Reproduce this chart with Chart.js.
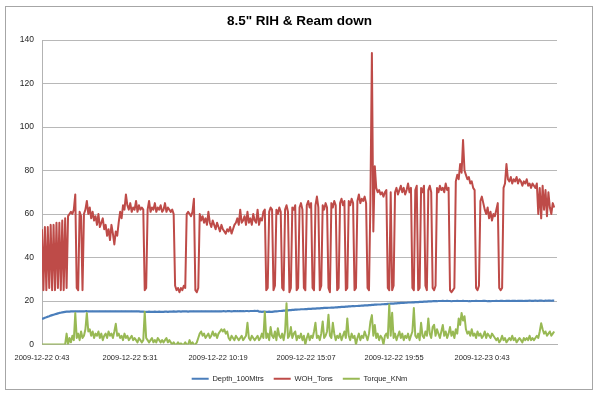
<!DOCTYPE html>
<html>
<head>
<meta charset="utf-8">
<script src="https://cdn.jsdelivr.net/npm/chart.js@4.4.1/dist/chart.umd.min.js"></script>
<style>
html,body{margin:0;padding:0;background:#fff;}
#wrap{position:relative;width:600px;height:399px;}
</style>
</head>
<body>
<div id="wrap"><canvas id="c" width="600" height="399"></canvas></div>
<script>
// ---- data ----
const tickLabels = ["2009-12-22 0:43", "2009-12-22 5:31", "2009-12-22 10:19", "2009-12-22 15:07", "2009-12-22 19:55", "2009-12-23 0:43"];
const tickMinutes = [0, 288, 576, 864, 1152, 1440];   // minutes after 2009-12-22 0:43
const sampleMinutes = 4.734;                          // logging interval of the samples
const axisEndMinutes = 1685;

const depth100Mtrs = [
  11.8,12.0,12.3,12.5,12.8,13.0,13.3,13.5,13.7,13.9,14.1,14.3,14.5,14.6,14.8,14.9,15.0,15.1,15.1,
  15.1,15.2,15.2,15.2,15.3,15.2,15.2,15.3,15.2,15.2,15.2,15.3,15.3,15.2,15.2,15.2,15.3,15.2,15.2,15.2,
  15.2,15.3,15.2,15.2,15.2,15.3,15.2,15.2,15.3,15.2,15.2,15.2,15.3,15.2,15.2,15.2,15.3,15.2,15.2,15.3,
  15.2,15.2,15.2,15.3,15.2,15.2,15.3,15.2,15.2,15.1,15.1,15.1,15.0,15.0,15.0,15.1,15.0,15.0,15.0,15.1,
  15.0,15.0,15.1,15.0,15.0,15.0,15.1,15.1,15.0,15.1,15.1,15.1,15.2,15.1,15.1,15.2,15.2,15.1,15.2,15.2,
  15.2,15.2,15.1,15.2,15.2,15.2,15.3,15.2,15.2,15.2,15.2,15.3,15.2,15.2,15.3,15.2,15.2,15.2,15.3,15.2,
  15.2,15.3,15.2,15.2,15.3,15.2,15.3,15.3,15.2,15.3,15.3,15.3,15.2,15.3,15.3,15.3,15.4,15.3,15.3,15.3,
  15.4,15.3,15.4,15.4,15.3,15.4,15.4,15.4,15.5,15.4,15.5,
  15.1,15.1,15.0,15.1,15.1,15.0,15.0,15.1,15.0,15.0,15.1,15.2,15.2,15.3,15.4,15.4,15.5,15.6,15.6,15.7,
  15.7,15.8,15.8,15.9,15.9,16.0,16.0,16.1,16.1,16.2,16.2,16.2,16.3,16.3,16.4,16.4,16.4,16.5,16.5,16.5,
  16.6,16.6,16.6,16.7,16.7,16.8,16.8,16.8,16.9,16.9,17.0,17.0,17.0,17.1,17.1,17.2,17.2,17.3,17.3,17.3,
  17.4,17.4,17.5,17.5,17.6,17.6,17.6,17.7,17.7,17.8,17.8,17.9,17.9,18.0,18.0,18.0,18.1,18.1,18.2,18.2,
  18.3,18.3,18.4,18.4,18.4,18.5,18.5,18.6,18.6,18.7,18.7,18.8,18.8,18.8,18.9,18.9,19.0,19.0,19.1,19.1,
  19.1,19.2,19.2,19.3,19.3,19.3,19.4,19.4,19.5,19.5,19.5,19.6,19.6,19.6,19.7,19.7,19.7,19.8,19.8,19.8,19.9,19.9,19.9,19.9,
  20.0,20.0,20.0,20.1,20.0,20.0,20.1,20.0,20.0,19.9,20.0,20.0,20.0,20.1,20.0,20.0,20.0,20.1,20.0,20.0,
  20.0,19.9,19.9,20.0,20.0,20.0,20.1,20.0,20.0,20.0,20.0,20.1,20.1,20.0,19.9,19.9,19.9,20.0,20.0,20.0,
  20.1,20.0,20.0,20.1,20.1,20.0,20.0,20.1,20.1,20.1,20.0,20.1,20.1,20.1,20.0,20.1,20.1,20.1,20.1,20.0,
  20.1,20.1,20.1,20.2,20.1,20.1,20.1,20.2,20.1,20.1,20.2,20.2,20.1,20.0,20.2,20.1,20.2,20.2,20.1,20.2,20.2
];

const wohTons = [
  53,25,54,25,54,26,55,25,55,25,56,26,56,25,57,25,58,26,
  59,60,61,60,62,69,26,25,61,59,25,60,
  62,66,60,63,58,61,57,59,55,60,54,56,58,53,55,
  50,53,48,55,51,46,52,50,56,61,58,64,62,69,
  64,62,65,61,63,62,66,61,64,62,63,62,25,26,
  62,66,61,63,62,65,61,63,62,64,61,62,65,61,63,62,61,62,60,
  27,25,26,24,26,25,27,26,60,61,60,59,61,67,25,24,26,
  60,57,59,56,58,55,61,56,54,57,55,53,56,54,52,55,53,52,51,53,52,54,51,53,55,
  56,58,55,62,56,57,59,55,61,56,58,55,60,57,56,62,55,58,57,61,
  62,25,26,61,63,62,25,27,62,60,63,61,26,25,62,64,61,24,26,63,62,64,25,26,
  63,65,62,26,25,64,66,63,65,26,25,64,68,63,25,27,64,62,65,63,26,24,65,63,66,64,
  25,26,65,67,64,66,25,26,66,64,67,65,25,26,66,69,65,67,66,68,65,26,25,67,
  134,52,82,72,70,71,69,70,68,70,71,26,25,70,25,27,
  70,72,69,71,73,70,72,69,71,74,70,72,26,25,71,73,25,26,72,70,73,27,25,71,73,70,26,25,27,
  72,70,73,71,72,70,74,71,72,25,24,25,26,75,78,76,83,79,94,80,78,76,77,74,75,72,71,26,25,27,
  66,68,65,62,60,63,58,61,57,60,59,62,65,26,25,26,
  72,74,83,76,75,77,74,76,75,77,74,76,75,73,75,74,76,73,74,72,74,73,72,74,
  60,72,58,73,62,71,59,70,63,60,65,63
];

const torqueKNm = [
  0,0,0,0,0,0,0,0,0,0,0,0,0,0,0,0,0,5,
  0,3,1,4,2,14.5,3,5,2,6, 3,4,7,14.5,6,7,4,6,3,5, 4,6,3,5,2,4,5,3,6,4, 5,3,6,9.5,4,5,3,4,2,5, 3,4,2,3,4,2,3,
  2,1,3,2,1,2,15,3,2,1,2,3,1,2,1,3,2,1,2,1,2,3,1,2,1,0,
  1,0,0,1,0,0.5,0,0,1,0,0,2,0,1,0,0,1,
  3,5,6,4,5,3,4,5,3,4, 6,4,5,3,5,6,7,6,7,5, 6,3,2,4,3,2,4,3,2,3, 4,2,3,4,
  10,3,2,4,3,2,3,4,2,3,5,3,15,
  3,5,2,8,4,3,6,2,7.5,4,3,5,2,6,19,3,4,8,3,5,6,2,4,3,5,
  2,4,0,3,5,2,4,3,6,10,
  3,4,2,5,10.6,3,4,6,13.7,4,
  3,10,5,2,4,3,5,2,4,6,
  3,12,4,2,5,3,4,0,3,5,
  2,4,3,6,4,2,5,10.6,13.5,4,
  9,3,5,2,4,3,0,4,5,3,
  18.4,4,14.6,3,5,2,4,6,3,5,
  2,4,3,5,2,4,6,16.8,4,3,
  5,2,10,4,3,6,4,12,5,3,8,
  9,4,7,5,3,6,9,4,6,3,5,8,4,6,3,7,5,12,9,14.5,11,13,7,5,6,4,7,
  4,5,3,6,4,5,3,4,6,3,5,4,3,5,4,3,
  2,3,1,2,4,2,3,1,2,3,2,4,2,3,1,2,3,2,1,3,2,3,2,4,2,3,2,3,4,3,
  6,9.8,7,5,6,4,5,6,4,5,6
];

const sampleTimes = wohTons.map((_, i) => +(i * sampleMinutes).toFixed(2));

// ---- chart ----
const FONT = "'Liberation Sans',Arial,sans-serif";
const frame = {
  id: 'frame',
  beforeDraw(chart) {
    const c = chart.ctx;
    c.save();
    c.fillStyle = '#ffffff';
    c.fillRect(0, 0, chart.width, chart.height);
    c.strokeStyle = '#a6a6a6';
    c.lineWidth = 1;
    c.strokeRect(5.5, 6.5, 587, 383);
    c.restore();
  }
};

new Chart(document.getElementById('c'), {
  type: 'line',
  data: {
    labels: sampleTimes,
    datasets: [
      { label: 'Depth_100Mtrs', data: depth100Mtrs, borderColor: '#4a7ebb', backgroundColor: '#4a7ebb', borderWidth: 2.2, order: 2 },
      { label: 'WOH_Tons', data: wohTons, borderColor: '#be4b48', backgroundColor: '#be4b48', borderWidth: 2, order: 1 },
      { label: 'Torque_KNm', data: torqueKNm, borderColor: '#98b954', backgroundColor: '#98b954', borderWidth: 2, order: 0 }
    ]
  },
  options: {
    responsive: false,
    animation: false,
    devicePixelRatio: 1,
    elements: { point: { radius: 0 }, line: { tension: 0, borderJoinStyle: 'round' } },
    layout: { padding: { left: 0, right: 43, top: 0, bottom: 6.5 } },
    scales: {
      x: {
        type: 'linear', min: 0, max: axisEndMinutes,
        grid: { display: false, drawTicks: false },
        border: { display: true, color: '#b3b3b3' },
        afterBuildTicks: s => { s.ticks = tickMinutes.map(v => ({ value: v })); },
        afterFit: s => { s.height = 20.5; },
        ticks: {
          autoSkip: false, maxRotation: 0, minRotation: 0, padding: 9,
          color: '#262626', font: { family: FONT, size: 7.5 },
          callback: v => { const k = tickMinutes.indexOf(v); return k >= 0 ? tickLabels[k] : ''; }
        }
      },
      y: {
        min: 0, max: 140,
        grid: { color: '#b8b8b8', drawTicks: false },
        border: { color: '#b3b3b3' },
        afterFit: s => { s.width = 42; },
        ticks: { stepSize: 20, padding: 8, color: '#262626', font: { family: FONT, size: 8.5 } }
      }
    },
    plugins: {
      title: {
        display: true, text: '8.5" RIH & Ream down', fullSize: false, color: '#000',
        font: { family: FONT, size: 13.5, weight: 'bold' },
        padding: { top: 13, bottom: 10.8 }
      },
      legend: {
        position: 'bottom', fullSize: false,
        labels: {
          usePointStyle: true, pointStyle: 'line', pointStyleWidth: 17, boxHeight: 7.5, padding: 10,
          color: '#262626', font: { family: FONT, size: 7.5 },
          sort: (a, b) => a.datasetIndex - b.datasetIndex
        }
      },
      tooltip: { enabled: false }
    }
  },
  plugins: [frame]
});
</script>
</body>
</html>
